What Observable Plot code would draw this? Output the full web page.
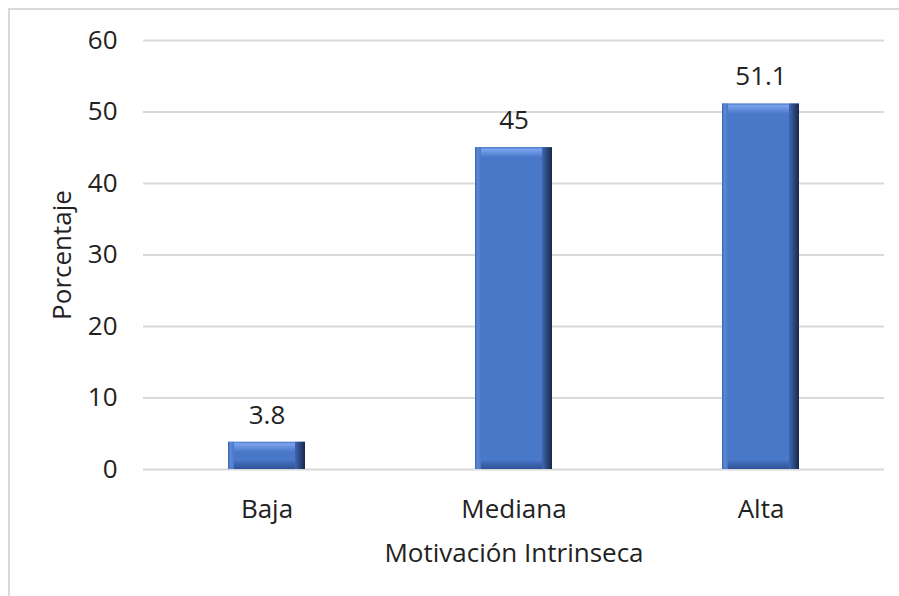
<!DOCTYPE html>
<html><head><meta charset="utf-8">
<script src="https://cdn.jsdelivr.net/npm/d3@7"></script>
<script src="https://cdn.jsdelivr.net/npm/@observablehq/plot@0.6"></script>
<style>
body{margin:0;background:#fff;}
#wrap{position:relative;width:899px;height:596px;overflow:hidden;}
#wrap::after{content:"";position:absolute;left:8px;top:8px;width:1000px;height:1000px;border-left:2px solid #d9d9d9;border-top:2px solid #d9d9d9;pointer-events:none;}
</style></head><body><div id="wrap"></div>
<script>
const categories = ["Baja", "Mediana", "Alta"];
const values = [3.8, 45, 51.1];
const valueLabels = ["3.8", "45", "51.1"];
const yTicks = [0, 10, 20, 30, 40, 50, 60];
const xTitle = "Motivación Intrinseca";
const yTitle = "Porcentaje";

const data = categories.map((c, i) => ({cat: c, value: values[i], label: valueLabels[i]}));

function defs() {
  const svg = d3.create("svg:defs");
  const g1 = svg.append("linearGradient").attr("id", "rightEdge").attr("x1", 0).attr("x2", 1).attr("y1", 0).attr("y2", 0);
  g1.append("stop").attr("offset", "0%").attr("stop-color", "#4067b3");
  g1.append("stop").attr("offset", "100%").attr("stop-color", "#18284a");
  const g2 = svg.append("linearGradient").attr("id", "topEdge").attr("x1", 0).attr("x2", 0).attr("y1", 0).attr("y2", 1);
  g2.append("stop").attr("offset", "0%").attr("stop-color", "#4a76c4");
  g2.append("stop").attr("offset", "20%").attr("stop-color", "#7aa3ec");
  g2.append("stop").attr("offset", "100%").attr("stop-color", "#4a78c9");
  const g3 = svg.append("linearGradient").attr("id", "bottomEdge").attr("x1", 0).attr("x2", 0).attr("y1", 0).attr("y2", 1);
  g3.append("stop").attr("offset", "0%").attr("stop-color", "#4470bf");
  g3.append("stop").attr("offset", "100%").attr("stop-color", "#2f5296");
  const g4 = svg.append("linearGradient").attr("id", "leftEdge").attr("x1", 0).attr("x2", 1).attr("y1", 0).attr("y2", 0);
  g4.append("stop").attr("offset", "0%").attr("stop-color", "#3d64ab");
  g4.append("stop").attr("offset", "40%").attr("stop-color", "#5c88d6");
  g4.append("stop").attr("offset", "100%").attr("stop-color", "#4a78c9");
  return svg.node();
}

const chart = Plot.plot({
  width: 899,
  height: 596,
  marginLeft: 143,
  marginRight: 15,
  marginTop: 40,
  marginBottom: 127,
  style: {fontFamily: "'Open Sans', sans-serif", fontSize: "26px", color: "#222", background: "transparent"},
  x: {domain: categories, paddingInner: 0.69, paddingOuter: 0.345},
  y: {domain: [0, 60]},
  marks: [
    defs,
    Plot.gridY(yTicks, {stroke: "#d9d9d9", strokeOpacity: 1, strokeWidth: 2}),
    Plot.axisY(yTicks, {tickSize: 0, tickPadding: 26, fontSize: 26, label: null, tickFormat: d => String(d)}),
    Plot.axisX({tickSize: 0, tickPadding: 30, fontSize: 26, label: null}),
    Plot.barY(data, {x: "cat", y: "value", fill: "#4a78c9"}),
    Plot.barY(data, {x: "cat", y1: "value", y2: "value", insetBottom: -10, fill: "url(#topEdge)"}),
    Plot.barY(data, {x: "cat", y1: 0, y2: 0, insetTop: -8, fill: "url(#bottomEdge)"}),
    Plot.barY(data, {x: "cat", y: "value", insetRight: 71, fill: "url(#leftEdge)"}),
    Plot.barY(data, {x: "cat", y: "value", insetLeft: 67, fill: "url(#rightEdge)"}),
    Plot.text(data, {x: "cat", y: "value", text: "label", dy: -27, fontSize: 26, fill: "#222"}),
    Plot.text([yTitle], {frameAnchor: "left", textAnchor: "middle", lineAnchor: "middle", dx: -81, rotate: -90, fontSize: 26, fill: "#222"}),
    Plot.text([xTitle], {frameAnchor: "bottom", textAnchor: "middle", lineAnchor: "middle", dy: 84, fontSize: 26, fill: "#222"})
  ]
});
document.getElementById("wrap").appendChild(chart);
</script>
</body></html>
